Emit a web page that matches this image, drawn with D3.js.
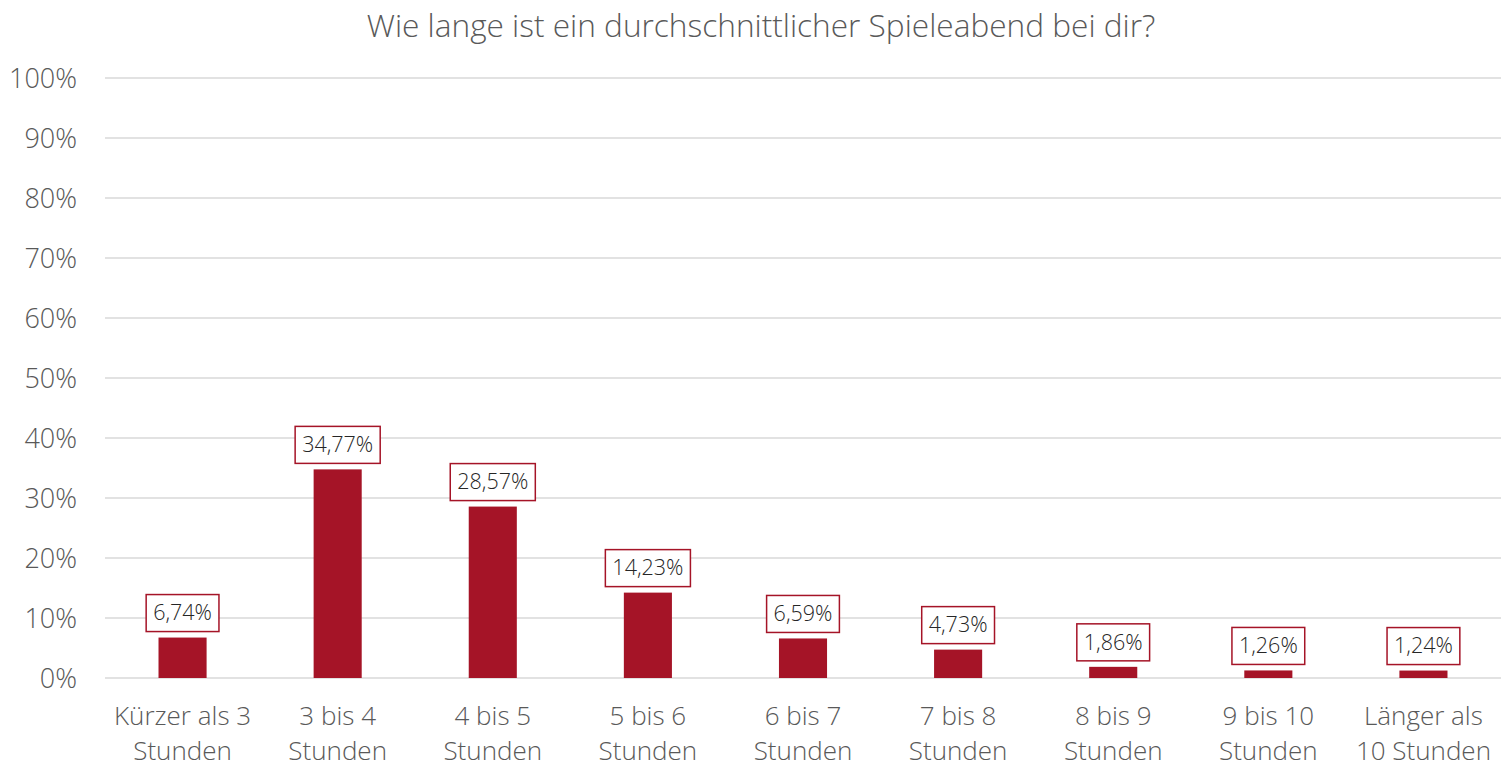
<!DOCTYPE html>
<html>
<head>
<meta charset="utf-8">
<script src="https://cdn.jsdelivr.net/npm/d3@7"></script>
<style>
  body { margin: 0; background: #fff; }
  svg { font-family: "Open Sans", sans-serif; font-weight: 300; }
</style>
</head>
<body>
<div id="chart"></div>
<script>
(function () {
  "use strict";

  const TITLE = "Wie lange ist ein durchschnittlicher Spieleabend bei dir?";
  const CATEGORIES = [
    ["Kürzer als 3", "Stunden"], ["3 bis 4", "Stunden"], ["4 bis 5", "Stunden"],
    ["5 bis 6", "Stunden"], ["6 bis 7", "Stunden"], ["7 bis 8", "Stunden"],
    ["8 bis 9", "Stunden"], ["9 bis 10", "Stunden"], ["Länger als", "10 Stunden"]
  ];
  const VALUES = [6.74, 34.77, 28.57, 14.23, 6.59, 4.73, 1.86, 1.26, 1.24];
  const Y_TICKS = [0, 10, 20, 30, 40, 50, 60, 70, 80, 90, 100];

  const width = 1501, height = 764;
  const left = 105, right = 1501, top = 78, bottom = 678;
  const barColor = "#a51427";
  const fmt = (v) => v.toFixed(2).replace(".", ",") + "%";

  const svg = d3.select("#chart").append("svg")
    .attr("width", width).attr("height", height);

  const x = d3.scaleBand()
    .domain(CATEGORIES.map((d, i) => i))
    .range([left, right])
    .paddingInner(0.69).paddingOuter(0.345);
  const y = d3.scaleLinear().domain([0, 100]).range([bottom, top]);

  // title
  svg.append("text")
    .attr("x", 761).attr("y", 37)
    .attr("text-anchor", "middle")
    .attr("font-size", 31.6)
    .attr("fill", "#595959")
    .text(TITLE);

  // gridlines + y labels
  svg.append("g").selectAll("line")
    .data(Y_TICKS).join("line")
    .attr("x1", left).attr("x2", right)
    .attr("y1", (d) => y(d)).attr("y2", (d) => y(d))
    .attr("stroke", "#d9d9d9").attr("stroke-width", 1.3);
  svg.append("g").selectAll("text")
    .data(Y_TICKS).join("text")
    .attr("x", 77).attr("y", (d) => y(d))
    .attr("dy", "0.36em")
    .attr("text-anchor", "end")
    .attr("font-size", 27)
    .attr("fill", "#595959")
    .text((d) => d + "%");

  // bars
  svg.append("g").selectAll("rect")
    .data(VALUES).join("rect")
    .attr("x", (d, i) => x(i))
    .attr("y", (d) => y(d))
    .attr("width", x.bandwidth())
    .attr("height", (d) => y(0) - y(d))
    .attr("fill", barColor);

  // value labels with boxes
  const lab = svg.append("g").selectAll("g")
    .data(VALUES).join("g")
    .attr("transform", (d, i) => `translate(${x(i) + x.bandwidth() / 2},${y(d) - 25})`);
  lab.append("text")
    .attr("text-anchor", "middle")
    .attr("dy", "0.36em")
    .attr("font-size", 21.5)
    .attr("fill", "#262626")
    .text((d) => fmt(d));
  lab.each(function () {
    const g = d3.select(this);
    const bb = g.select("text").node().getBBox();
    g.insert("rect", "text")
      .attr("x", -bb.width / 2 - 7)
      .attr("y", -18)
      .attr("width", bb.width + 14)
      .attr("height", 37)
      .attr("fill", "#fff")
      .attr("stroke", barColor)
      .attr("stroke-width", 1.5);
  });

  // category labels
  const cat = svg.append("g").selectAll("text")
    .data(CATEGORIES).join("text")
    .attr("x", (d, i) => x(i) + x.bandwidth() / 2)
    .attr("y", 725)
    .attr("text-anchor", "middle")
    .attr("font-size", 26)
    .attr("fill", "#595959");
  cat.selectAll("tspan")
    .data((d) => d).join("tspan")
    .attr("x", function () { return d3.select(this.parentNode).attr("x"); })
    .attr("dy", (d, i) => (i === 0 ? 0 : 35))
    .text((d) => d);
})();
</script>
</body>
</html>
